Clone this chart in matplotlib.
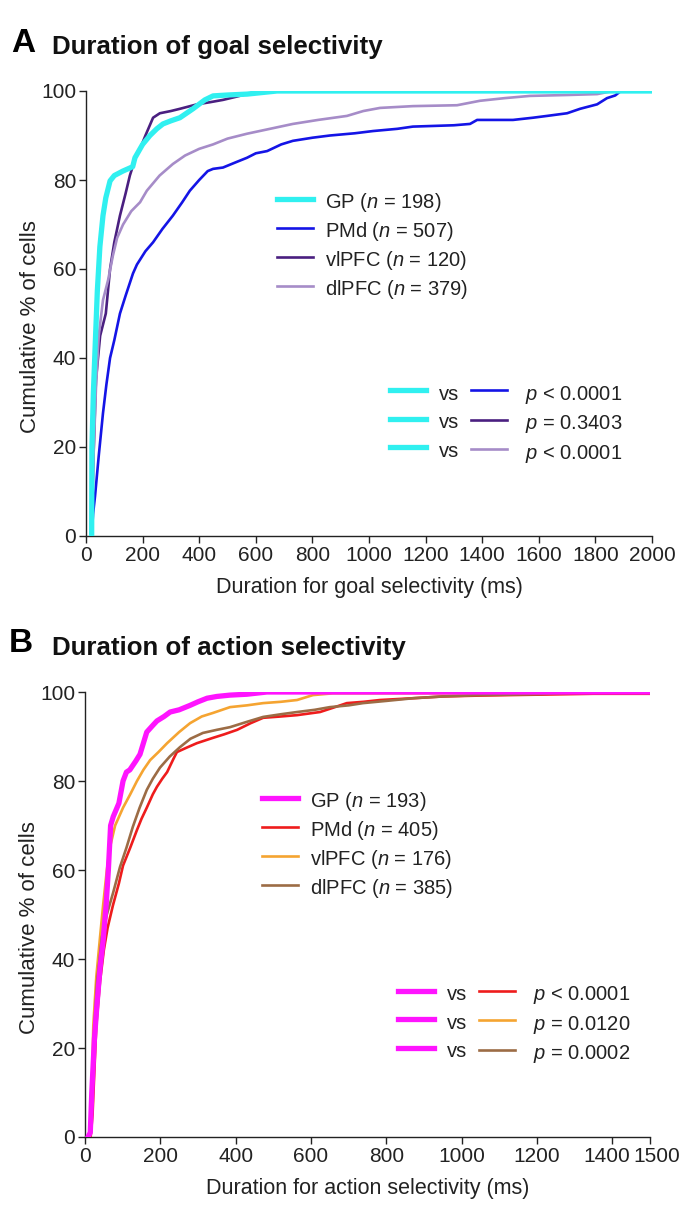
import matplotlib.pyplot as plt
import matplotlib.transforms as mtransforms
from matplotlib.lines import Line2D

plt.rcParams['font.family'] = ['Liberation Sans', 'DejaVu Sans']
plt.rcParams['mathtext.fontset'] = 'custom'
plt.rcParams['mathtext.rm'] = 'Liberation Sans'
plt.rcParams['mathtext.it'] = 'Liberation Sans:italic'

# Panel A: cumulative % of cells vs duration of goal selectivity (ms)
gp_goal_x = [20, 21, 26, 32, 40, 49, 60, 70, 85, 100, 130, 155, 165, 173, 200, 226,
             250, 272, 300, 332, 378, 420, 449, 500, 569, 675, 2000]
gp_goal_y = [0, 20, 32, 42, 55, 65, 72, 76, 79.8, 81, 82, 82.7, 83, 85, 88, 90,
             91.5, 92.6, 93.3, 94, 96, 98, 98.9, 99.1, 99.3, 100, 100]

pmd_goal_x = [20, 25, 32, 45, 60, 72, 85, 100, 120, 140, 166, 180, 210, 237, 270, 307,
              340, 367, 400, 430, 449, 484, 530, 569, 600, 640, 690, 731, 800, 862,
              950, 1014, 1100, 1155, 1300, 1357, 1382, 1509, 1580, 1629, 1700, 1746,
              1806, 1841, 1870, 1890]
pmd_goal_y = [0, 5, 9, 18, 27.6, 34, 40, 44, 50, 54, 59, 61, 64, 66, 69, 72,
              75, 77.6, 80, 82, 82.5, 82.8, 84, 85, 86, 86.5, 88, 88.8, 89.5, 90,
              90.5, 91, 91.5, 92, 92.3, 92.6, 93.5, 93.5, 94, 94.4, 95, 96,
              97, 98.4, 99, 100]

vl_goal_x = [20, 25, 35, 50, 70, 85, 100, 120, 140, 155, 175, 191, 210, 237, 261,
             300, 332, 392, 440, 484, 530, 580, 610]
vl_goal_y = [0, 15, 35, 45, 50, 60, 66, 72, 77, 81, 85, 87, 90, 94, 95,
             95.5, 96, 97, 97.5, 98, 98.7, 99.5, 100]

dl_goal_x = [20, 25, 35, 45, 60, 78, 95, 110, 131, 160, 191, 215, 260, 307, 350, 400,
             449, 500, 569, 650, 731, 820, 922, 980, 1039, 1155, 1311, 1392, 1480,
             1569, 1700, 1806, 1862]
dl_goal_y = [0, 15, 33, 45, 53, 57.5, 63, 67, 70, 73, 75, 77.6, 81, 83.6, 85.5, 87,
             88, 89.3, 90.4, 91.5, 92.6, 93.5, 94.4, 95.5, 96.2, 96.6, 96.8, 97.8, 98.4,
             98.9, 99.1, 99.3, 100]

# Panel B: duration of action selectivity (ms)
gp_act_x = [8, 14, 18, 25, 32, 40, 48, 56, 62, 68, 75, 90, 101, 110, 119, 135, 146,
            155, 164, 180, 191, 210, 226, 250, 279, 300, 324, 350, 385, 430, 483, 1500]
gp_act_y = [0, 1, 10, 22, 30, 38, 44, 52, 60, 70, 72, 75, 80, 82, 82.5, 84.5, 86,
            88.5, 91, 92.5, 93.5, 94.5, 95.5, 96, 97, 97.8, 98.6, 99, 99.3, 99.5, 100, 100]

pmd_act_x = [15, 20, 25, 30, 40, 50, 60, 74, 90, 101, 120, 138, 150, 164, 180, 191,
             205, 218, 235, 244, 270, 297, 340, 370, 404, 440, 473, 520, 563, 624,
             660, 695, 740, 783, 871, 950, 1050, 1200, 1350, 1500]
pmd_act_y = [0, 5, 15, 25, 35, 42, 47, 52, 57, 61, 65, 69, 71.5, 74, 77, 78.7,
             80.5, 82, 85, 86.5, 87.5, 88.5, 89.7, 90.5, 91.5, 93, 94.2, 94.5, 94.8, 95.5,
             96.5, 97.5, 97.8, 98.2, 98.6, 99, 99.2, 99.4, 99.6, 99.6]

vl_act_x = [13, 18, 22, 30, 40, 48, 58, 66, 80, 101, 120, 138, 155, 173, 195, 218,
            250, 279, 310, 340, 385, 430, 473, 520, 563, 605, 658, 1100, 1110, 1500]
vl_act_y = [0, 10, 25, 36, 45, 52, 60, 65, 70, 74, 77, 80, 82.5, 84.7, 86.5, 88.5,
            91, 93, 94.5, 95.3, 96.6, 97, 97.5, 97.8, 98.2, 99.3, 99.7, 99.7, 100, 100]

dl_act_x = [13, 18, 25, 32, 45, 58, 75, 93, 110, 127, 145, 164, 180, 199, 225, 252,
            280, 313, 350, 385, 430, 473, 520, 563, 610, 650, 700, 738, 800, 871,
            950, 1050, 1200, 1330, 1500]
dl_act_y = [0, 10, 25, 35, 45, 50, 55, 60.7, 65, 69.7, 74, 78, 80.5, 83, 85.5, 87.6,
            89.5, 90.8, 91.5, 92.1, 93.3, 94.4, 95, 95.5, 96, 96.6, 97, 97.5, 98, 98.6,
            99, 99.3, 99.5, 100, 100]

goal_n = [198, 507, 120, 379]
act_n = [193, 405, 176, 385]
goal_p = ['$p$ < 0.0001', '$p$ = 0.3403', '$p$ < 0.0001']
act_p = ['$p$ < 0.0001', '$p$ = 0.0120', '$p$ = 0.0002']
areas = ['GP', 'PMd', 'vlPFC', 'dlPFC']

goal_colors = ['#30f0f0', '#1414e6', '#4a1f80', '#a68cc8']
act_colors = ['#ff14ff', '#ee1c1c', '#f5a431', '#9c6c45']

TXT = '#222222'
FS_TICK = 15
FS_LAB = 15.5
FS_LEG = 14.5

fig = plt.figure(figsize=(6.94, 12.10), dpi=100)
axA = fig.add_axes([86 / 694, 1 - 536 / 1210, 566 / 694, 445 / 1210])
axB = fig.add_axes([85 / 694, 1 - 1137 / 1210, 565 / 694, 445 / 1210])


def draw_panel(ax, xs, ys, colors, ns, pvals, xmax, xticks, xlabel,
               leg1_anchor, leg2_anchor):
    lines = [None] * 4
    for i in [1, 2, 3, 0]:
        lw = 3.8 if i == 0 else 1.9
        lines[i], = ax.plot(xs[i], ys[i], color=colors[i], lw=lw,
                            zorder=5 if i == 0 else 3, solid_joinstyle='round')
    labels = ['%s ($n$ = %d)' % (a, n) for a, n in zip(areas, ns)]
    leg1 = ax.legend(lines, labels, loc='upper left', bbox_to_anchor=leg1_anchor,
                     frameon=False, fontsize=FS_LEG, handlelength=1.8,
                     handleheight=1.42, handletextpad=0.6, labelspacing=0.22,
                     borderpad=0, borderaxespad=0, labelcolor=TXT)
    ax.add_artist(leg1)
    h_gp = [Line2D([], [], color=colors[0], lw=3.8) for _ in range(3)]
    h_other = [Line2D([], [], color=colors[i], lw=1.9) for i in (1, 2, 3)]
    ax.legend(h_gp + h_other, ['vs'] * 3 + [' ' + p for p in pvals], ncol=2,
              loc='upper left', bbox_to_anchor=leg2_anchor, frameon=False,
              fontsize=FS_LEG, handlelength=1.8, handleheight=1.42,
              handletextpad=0.62, columnspacing=0.6, labelspacing=0.25,
              borderpad=0, borderaxespad=0, labelcolor=TXT)

    ax.set_xlim(0, xmax)
    ax.set_ylim(0, 100)
    ax.set_xticks(xticks)
    ax.set_yticks([0, 20, 40, 60, 80, 100])
    ax.spines['top'].set_visible(False)
    ax.spines['right'].set_visible(False)
    for s in ('left', 'bottom'):
        ax.spines[s].set_linewidth(1.0)
        ax.spines[s].set_color(TXT)
    ax.tick_params(direction='out', length=5, width=1.0, labelsize=FS_TICK,
                   colors=TXT, labelcolor=TXT, pad=2)
    ax.set_xlabel(xlabel, fontsize=FS_LAB, color=TXT, labelpad=9)
    ax.set_ylabel('Cumulative % of cells', fontsize=FS_LAB + 0.5, color=TXT)
    ax.yaxis.set_label_coords(-0.08, 0.47)


draw_panel(axA,
           [gp_goal_x, pmd_goal_x, vl_goal_x, dl_goal_x],
           [gp_goal_y, pmd_goal_y, vl_goal_y, dl_goal_y],
           goal_colors, goal_n, goal_p, 2000, list(range(0, 2001, 200)),
           'Duration for goal selectivity (ms)', (0.3375, 0.778), (0.537, 0.348))
draw_panel(axB,
           [gp_act_x, pmd_act_x, vl_act_x, dl_act_x],
           [gp_act_y, pmd_act_y, vl_act_y, dl_act_y],
           act_colors, act_n, act_p, 1500, list(range(0, 1401, 200)) + [1500],
           'Duration for action selectivity (ms)', (0.313, 0.782), (0.554, 0.349))

# nudge the crowded 1400 / 1500 labels apart as in the original
labs = axB.get_xticklabels()
labs[-2].set_transform(labs[-2].get_transform() +
                       mtransforms.ScaledTranslation(-6 / 100, 0, fig.dpi_scale_trans))
labs[-1].set_transform(labs[-1].get_transform() +
                       mtransforms.ScaledTranslation(7 / 100, 0, fig.dpi_scale_trans))

fig.text(11 / 694, 1 - 43 / 1210, 'A', fontsize=24, fontweight='bold', va='center',
         color='black')
fig.text(52 / 694, 1 - 47 / 1210, 'Duration of goal selectivity', fontsize=18.6,
         fontweight='bold', va='center', color='#111111')
fig.text(9 / 694, 1 - 644 / 1210, 'B', fontsize=24, fontweight='bold', va='center',
         color='black')
fig.text(52 / 694, 1 - 648 / 1210, 'Duration of action selectivity', fontsize=18.6,
         fontweight='bold', va='center', color='#111111')

fig.savefig('out.png', dpi=100)
